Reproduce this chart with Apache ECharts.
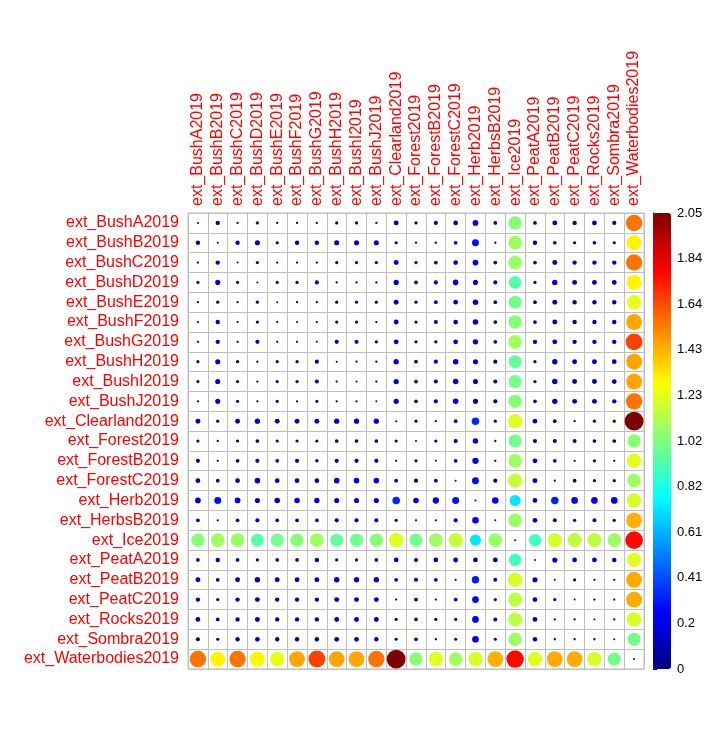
<!DOCTYPE html>
<html>
<head>
<meta charset="utf-8">
<script src="https://cdn.jsdelivr.net/npm/echarts@6/dist/echarts.min.js"></script>
<style>
html,body{margin:0;padding:0;background:#fff;}
#chart{width:713px;height:731px;}
</style>
</head>
<body>
<div id="chart"></div>
<script>
const categories = ["ext_BushA2019","ext_BushB2019","ext_BushC2019","ext_BushD2019","ext_BushE2019","ext_BushF2019","ext_BushG2019","ext_BushH2019","ext_BushI2019","ext_BushJ2019","ext_Clearland2019","ext_Forest2019","ext_ForestB2019","ext_ForestC2019","ext_Herb2019","ext_HerbsB2019","ext_Ice2019","ext_PeatA2019","ext_PeatB2019","ext_PeatC2019","ext_Rocks2019","ext_Sombra2019","ext_Waterbodies2019"];

// Upper triangle of the symmetric matrix: row i holds values for columns i+1 .. 22
const upperBushA = [0.11,0.03,0.06,0.03,0.03,0.03,0.06,0.06,0.03,0.14,0.06,0.10,0.13,0.19,0.08,1.04,0.08,0.14,0.11,0.13,0.10,1.56];
const upperBushB = [0.11,0.15,0.06,0.11,0.11,0.15,0.15,0.15,0.06,0.03,0.03,0.08,0.28,0.03,1.09,0.11,0.08,0.06,0.08,0.06,1.30];
const upperBushC = [0.06,0.03,0.03,0.03,0.06,0.06,0.06,0.14,0.06,0.08,0.13,0.19,0.08,1.08,0.08,0.14,0.11,0.11,0.11,1.56];
const upperBushD = [0.06,0.06,0.10,0.03,0.03,0.03,0.16,0.08,0.10,0.18,0.15,0.10,0.94,0.06,0.17,0.14,0.14,0.13,1.30];
const upperBushE = [0.03,0.03,0.06,0.06,0.06,0.14,0.06,0.08,0.13,0.18,0.08,1.00,0.08,0.14,0.11,0.11,0.11,1.23];
const upperBushF = [0.03,0.06,0.06,0.03,0.14,0.06,0.10,0.13,0.18,0.08,1.04,0.08,0.14,0.11,0.11,0.11,1.46];
const upperBushG = [0.10,0.10,0.06,0.14,0.06,0.07,0.13,0.17,0.08,1.09,0.11,0.14,0.11,0.11,0.11,1.66];
const upperBushH = [0.03,0.03,0.16,0.08,0.10,0.18,0.15,0.10,0.97,0.06,0.17,0.14,0.14,0.13,1.46];
const upperBushI = [0.03,0.16,0.08,0.10,0.18,0.15,0.10,1.00,0.06,0.17,0.14,0.14,0.13,1.46];
const upperBushJ = [0.16,0.08,0.10,0.18,0.15,0.10,1.04,0.08,0.17,0.14,0.14,0.11,1.56];
const upperClearland = [0.06,0.03,0.08,0.33,0.06,1.22,0.13,0.08,0.03,0.06,0.06,2.05];
const upperForest = [0.06,0.10,0.18,0.03,1.00,0.10,0.10,0.09,0.08,0.08,1.05];
const upperForestB = [0.08,0.23,0.03,1.09,0.13,0.08,0.03,0.06,0.03,1.22];
const upperForestC = [0.28,0.10,1.17,0.14,0.03,0.08,0.06,0.06,1.09];
const upperHerb = [0.25,0.72,0.13,0.32,0.26,0.26,0.26,1.20];
const upperHerbsB = [1.08,0.13,0.09,0.06,0.09,0.06,1.44];
const upperIce = [0.90,1.20,1.15,1.15,1.08,1.78];
const upperPeatA = [0.15,0.13,0.13,0.12,1.22];
const upperPeatB = [0.06,0.03,0.03,1.45];
const upperPeatC = [0.03,0.03,1.45];
const upperRocks = [0.03,1.20];
const upperSombra = [1.00];
const upperWaterbodies = [];

const colorTicks = ["0","0.2","0.41","0.61","0.82","1.02","1.23","1.43","1.64","1.84","2.05"];
const jetColors = ["#00007F","#0000FF","#007FFF","#00FFFF","#7FFF7F","#FFFF00","#FF7F00","#FF0000","#7F0000"];

const upperRows = [upperBushA,upperBushB,upperBushC,upperBushD,upperBushE,upperBushF,upperBushG,upperBushH,upperBushI,upperBushJ,upperClearland,upperForest,upperForestB,upperForestC,upperHerb,upperHerbsB,upperIce,upperPeatA,upperPeatB,upperPeatC,upperRocks,upperSombra,upperWaterbodies];

const n = categories.length;
const matrix = [];
for (let i = 0; i < n; i++) matrix.push(new Array(n).fill(0));
for (let i = 0; i < n; i++) {
  upperRows[i].forEach((v, k) => {
    const j = i + 1 + k;
    matrix[i][j] = v;
    matrix[j][i] = v;
  });
}
const data = [];
for (let i = 0; i < n; i++) for (let j = 0; j < n; j++) data.push([j, i, matrix[i][j]]);

const vmax = 2.05;
const cell = 456 / 23;
const font = "'Liberation Sans', Arial, sans-serif";

const chart = echarts.init(document.getElementById('chart'));
chart.setOption({
  backgroundColor: '#ffffff',
  animation: false,
  textStyle: { fontFamily: font },
  grid: [
    { left: 188, top: 213, width: 456, height: 456, show: true, borderColor: '#BEBEBE', borderWidth: 1, backgroundColor: '#fff' },
    { left: 653, top: 213, width: 18, height: 456, show: false }
  ],
  xAxis: [
    { type: 'category', data: categories, gridIndex: 0, position: 'top', boundaryGap: true,
      axisLine: { show: false }, axisTick: { show: false },
      axisLabel: { rotate: -90, interval: 0, color: '#FF0000', fontSize: 16, margin: 7, fontFamily: font },
      splitLine: { show: true, interval: 0, lineStyle: { color: '#BEBEBE', width: 1 } } },
    { type: 'value', gridIndex: 1, show: false, min: 0, max: 1 }
  ],
  yAxis: [
    { type: 'category', data: categories, gridIndex: 0, inverse: true, boundaryGap: true,
      axisLine: { show: false }, axisTick: { show: false },
      axisLabel: { interval: 0, color: '#FF0000', fontSize: 16, margin: 9, fontFamily: font },
      splitLine: { show: true, interval: 0, lineStyle: { color: '#BEBEBE', width: 1 } } },
    { type: 'value', gridIndex: 1, position: 'right', min: 0, max: 10, interval: 1,
      axisLine: { show: true, lineStyle: { color: '#000', width: 1 } },
      axisTick: { show: true, length: 4, lineStyle: { color: '#000' } },
      splitLine: { show: false },
      axisLabel: { color: '#000', fontSize: 13, margin: 6, fontFamily: font,
        formatter: v => colorTicks[Math.round(v)] } }
  ],
  visualMap: {
    type: 'continuous', min: 0, max: vmax, dimension: 2, seriesIndex: 0,
    orient: 'vertical', left: 653, top: 213, itemWidth: 18, itemHeight: 456,
    padding: 0, calculable: false, hoverLink: false, showLabel: false,
    inRange: { color: jetColors }
  },
  series: [{
    type: 'scatter', xAxisIndex: 0, yAxisIndex: 0, data: data,
    symbol: 'circle',
    symbolSize: d => Math.max(2, 0.95 * cell * Math.sqrt(d[2] / vmax)),
    itemStyle: { opacity: 1 }
  }]
});
</script>
</body>
</html>
